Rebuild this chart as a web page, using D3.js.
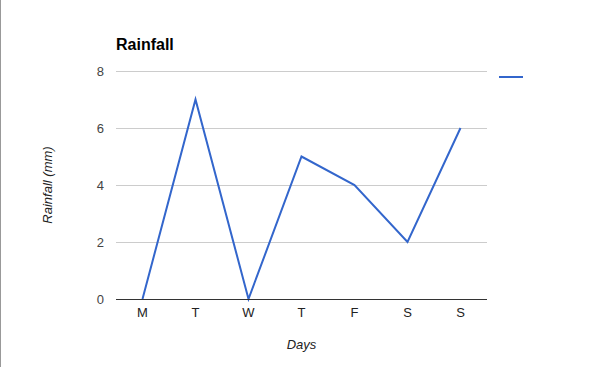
<!DOCTYPE html>
<html>
<head>
<meta charset="utf-8">
<script src="https://cdnjs.cloudflare.com/ajax/libs/d3/7.8.5/d3.min.js"></script>
<style>
  body { margin: 0; background: #fff; }
  svg { display: block; font-family: Arial, "Liberation Sans", sans-serif; }
</style>
</head>
<body>
<div id="chart"></div>
<script>
// Data
const days = ["M", "T", "W", "T", "F", "S", "S"];
const rainfall = [0, 7, 0, 5, 4, 2, 6];
const yTicks = [0, 2, 4, 6, 8];

const W = 599, H = 367;
const margin = { top: 71, right: 112, bottom: 68, left: 116 };
const width = W - margin.left - margin.right;
const height = H - margin.top - margin.bottom;

const svg = d3.select("#chart")
    .append("svg")
    .attr("width", W)
    .attr("height", H);

// left border
svg.append("line")
    .attr("x1", 0.5).attr("x2", 0.5)
    .attr("y1", 0).attr("y2", H)
    .style("stroke", "#999")
    .style("stroke-width", 1);

const g = svg.append("g")
    .attr("transform", `translate(${margin.left},${margin.top})`);

const x = d3.scaleBand()
    .domain(d3.range(days.length))
    .range([0, width]);

const y = d3.scaleLinear()
    .domain([0, 8])
    .range([height, 0]);

// gridlines
g.append("g")
    .selectAll("line")
    .data(yTicks.filter(d => d !== 0))
    .join("line")
    .attr("x1", 0)
    .attr("x2", width)
    .attr("y1", d => Math.round(y(d)) + 0.5)
    .attr("y2", d => Math.round(y(d)) + 0.5)
    .style("stroke", "#ccc");

// y tick labels
g.append("g")
    .selectAll("text")
    .data(yTicks)
    .join("text")
    .attr("x", -12)
    .attr("y", d => y(d))
    .attr("dy", "0.35em")
    .attr("text-anchor", "end")
    .style("font-size", "13px")
    .style("fill", "#444")
    .text(d => d);

// x tick labels
g.append("g")
    .selectAll("text")
    .data(days)
    .join("text")
    .attr("x", (d, i) => x(i) + x.bandwidth() / 2)
    .attr("y", height + 18)
    .attr("text-anchor", "middle")
    .style("font-size", "13px")
    .style("fill", "#222")
    .text(d => d);

// line
const line = d3.line()
    .x((d, i) => x(i) + x.bandwidth() / 2)
    .y(d => y(d));

g.append("path")
    .datum(rainfall)
    .attr("d", line)
    .style("fill", "none")
    .style("stroke", "#3366cc")
    .style("stroke-width", 2);

// baseline
g.append("line")
    .attr("x1", 0)
    .attr("x2", width)
    .attr("y1", y(0) + 0.5)
    .attr("y2", y(0) + 0.5)
    .style("stroke", "#333");

// title
svg.append("text")
    .attr("x", margin.left)
    .attr("y", 50)
    .style("font-size", "16px")
    .style("font-weight", "bold")
    .style("fill", "#000")
    .text("Rainfall");

// axis titles
svg.append("text")
    .attr("x", margin.left + width / 2)
    .attr("y", 349)
    .attr("text-anchor", "middle")
    .style("font-size", "13px")
    .style("font-style", "italic")
    .style("fill", "#222")
    .text("Days");

svg.append("text")
    .attr("transform", `translate(52,${margin.top + height / 2}) rotate(-90)`)
    .attr("text-anchor", "middle")
    .style("font-size", "13px")
    .style("font-style", "italic")
    .style("fill", "#222")
    .text("Rainfall (mm)");

// legend
svg.append("line")
    .attr("x1", 499)
    .attr("x2", 523)
    .attr("y1", 77)
    .attr("y2", 77)
    .style("stroke", "#3366cc")
    .style("stroke-width", 2);
</script>
</body>
</html>
